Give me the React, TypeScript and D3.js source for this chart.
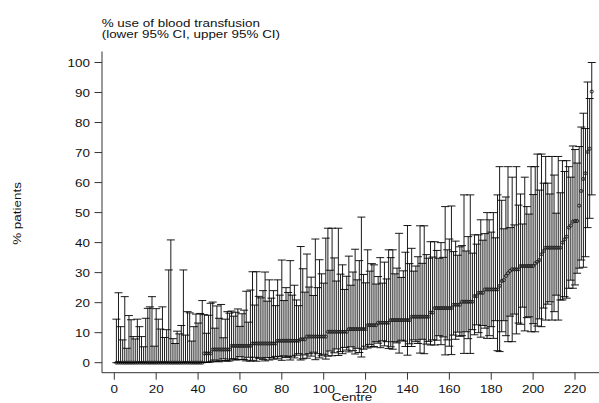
import React from "react";
import * as d3 from "d3";

// Point estimate (% use of blood transfusion) per centre, sorted
const estimate: number[] = [
  0, 0, 0, 0, 0, 0, 0, 0, 0, 0,
  0, 0, 0, 0, 0, 0, 0, 0, 0, 0,
  0, 0, 0, 0, 0, 0, 0, 0, 0, 0,
  0, 0, 0, 0, 0, 0, 0, 0, 0, 0,
  0, 0, 3.1, 3.1, 3.1, 3.1, 4.4, 4.4, 4.4, 4.4,
  4.4, 4.4, 4.4, 4.4, 4.4, 5.6, 5.6, 5.6, 5.6, 5.6,
  5.6, 5.6, 5.6, 5.6, 5.6, 6.4, 6.4, 6.4, 6.4, 6.4,
  6.4, 6.4, 6.4, 6.4, 6.4, 6.4, 6.4, 7.3, 7.3, 7.3,
  7.3, 7.3, 7.3, 7.3, 7.3, 7.3, 7.3, 7.3, 7.8, 7.8,
  7.8, 8.7, 8.7, 8.7, 8.7, 8.7, 8.7, 8.7, 8.7, 8.7,
  8.7, 10.3, 10.3, 10.3, 10.3, 10.3, 10.3, 10.3, 10.3, 10.3,
  10.3, 11.2, 11.2, 11.2, 11.2, 11.2, 11.2, 11.2, 11.2, 11.2,
  12.5, 12.5, 12.5, 12.5, 12.5, 13.3, 13.3, 13.3, 13.3, 13.3,
  13.3, 14.2, 14.2, 14.2, 14.2, 14.2, 14.2, 14.2, 14.2, 14.2,
  14.2, 15.3, 15.3, 15.3, 15.3, 15.3, 15.3, 15.3, 15.3, 15.3,
  16.7, 16.7, 18.2, 18.2, 18.2, 18.2, 18.2, 18.2, 18.2, 18.2,
  18.2, 19.3, 19.3, 19.3, 19.3, 20.3, 20.3, 20.3, 20.3, 20.3,
  20.3, 22.2, 22.2, 23.3, 23.3, 23.3, 24.4, 24.4, 24.4, 24.4,
  24.4, 24.4, 24.4, 25.6, 27.2, 27.5, 28.9, 29.8, 30.6, 31.1,
  31.1, 31.1, 31.1, 32.2, 32.2, 32.2, 32.2, 32.2, 32.2, 32.2,
  33.1, 33.6, 34.2, 36.1, 37.2, 38.3, 38.3, 38.3, 38.3, 38.3,
  38.3, 38.3, 38.3, 40, 41.1, 42, 45, 45.7, 47, 47.2,
  47.2, 52.3, 57.2, 61.2, 63.1, 70.2, 71.3, 90.3,
];

// Upper 95% CI per centre
const upper: number[] = [
  14.5, 23.3, 12, 7.6, 22, 4.8, 15.7, 14.3, 8.7, 7.9,
  14.5, 12, 8.7, 5.3, 14.8, 18.1, 18.6, 22, 5.5, 18,
  14.5, 11.2, 18.6, 8.4, 11, 30.9, 40.9, 8, 6.4, 10.5,
  9.6, 12.4, 30.9, 9.2, 17, 16.6, 7.2, 12, 16.2, 13.2,
  16.4, 20.7, 16, 9.8, 15.8, 19.8, 20.2, 11.5, 18.9, 14.8,
  19.4, 8.3, 14.5, 17.0, 16.5, 17.2, 15.5, 16.8, 17.9, 12.1,
  16.3, 17.5, 23.8, 13.5, 24.2, 30.3, 19.2, 30.3, 22.1, 21.6,
  24.0, 30.2, 20.5, 27.6, 21.5, 24.0, 19.0, 27.6, 22.5, 34.2,
  20.7, 25.0, 23.4, 34.0, 22.5, 25.8, 20.9, 19.0, 38.7, 31.3,
  23.5, 36.2, 25.2, 28.5, 22.4, 41.2, 25.0, 34.3, 29.6, 26.5,
  41.5, 44.8, 30.8, 44.8, 34.9, 27.2, 44.8, 29.5, 32.6, 24.4,
  28.8, 35.5, 25.8, 30.2, 37.8, 27.6, 34.0, 48.5, 29.4, 26.6,
  37.6, 30.5, 33.0, 32.6, 26.2, 28.7, 35.0, 26.5, 33.5, 27.9,
  37.6, 35.0, 37.6, 29.6, 31.5, 43.1, 28.4, 30.6, 36.8, 45.7,
  33.0, 38.1, 30.5, 32.2, 35.3, 45.6, 33.1, 45.6, 36.0, 34.8,
  40.3, 35.2, 40.3, 37.4, 34.8, 40.0, 35.1, 52.0, 37.6, 41.2,
  52.2, 37.0, 40.5, 35.8, 38.6, 39.0, 55.9, 37.2, 42.0, 55.9,
  36.5, 42.6, 39.5, 42.6, 47.6, 40.8, 43.0, 50.0, 47.6, 43.5,
  50.0, 41.6, 55.9, 65.3, 54.1, 44.6, 55.2, 65.3, 45.0, 61.8,
  45.9, 65.3, 52.5, 56.2, 46.2, 61.8, 52.0, 49.5, 65.3, 56.0,
  65.3, 69.5, 57.5, 69.5, 59.8, 68.7, 59.8, 56.2, 68.7, 62.5,
  49.8, 68.7, 56.6, 67.3, 63.7, 67.3, 65.3, 61.8, 72.2, 71.0,
  66.5, 72.0, 78.5, 83.1, 78.0, 93.5, 88.0, 100,
];

// Lower 95% CI per centre
const lower: number[] = [
  0, 0, 0, 0, 0, 0, 0, 0, 0, 0,
  0, 0, 0, 0, 0, 0, 0, 0, 0, 0,
  0, 0, 0, 0, 0, 0, 0, 0, 0, 0,
  0, 0, 0, 0, 0, 0, 0, 0, 0, 0,
  0, 0, 0.1, 0.1, 0.2, 0.2, 0.5, 0.9, 0.5, 0.3,
  0.6, 1.3, 0.7, 0.5, 0.6, 1.2, 1.3, 0.9, 1.0, 2.0,
  1.1, 1.0, 0.6, 1.8, 0.5, 0.8, 1.8, 0.5, 1.5, 1.6,
  1.1, 0.6, 1.7, 0.9, 1.7, 1.2, 2.1, 1.3, 2.0, 0.8,
  2.3, 1.7, 2.0, 0.9, 2.2, 1.6, 2.5, 3.0, 0.9, 1.3,
  2.6, 1.5, 3.0, 2.2, 3.5, 1.0, 3.0, 1.6, 2.3, 2.8,
  1.2, 2.2, 3.9, 2.3, 3.3, 4.6, 2.4, 3.7, 3.0, 5.1,
  4.2, 3.6, 5.3, 4.0, 2.9, 4.8, 3.4, 1.9, 4.5, 5.5,
  4.9, 6.1, 5.2, 5.4, 7.0, 6.5, 5.0, 7.3, 5.6, 7.0,
  4.7, 5.3, 4.5, 7.0, 6.6, 3.2, 7.5, 7.2, 5.4, 2.5,
  6.3, 5.4, 7.6, 7.0, 6.4, 3.2, 7.8, 3.0, 6.2, 7.1,
  5.9, 7.6, 5.9, 7.5, 9.0, 6.0, 8.6, 2.6, 7.6, 5.5,
  2.7, 9.2, 7.8, 10.2, 8.8, 9.0, 3.1, 10.3, 8.0, 3.1,
  11.0, 9.3, 12.6, 10.0, 8.5, 12.4, 11.5, 8.1, 9.0, 12.0,
  8.1, 14.0, 4.0, 3.7, 10.3, 14.0, 9.0, 7.0, 15.5, 7.0,
  16.2, 9.6, 13.2, 12.8, 18.5, 10.6, 15.0, 15.3, 10.3, 13.0,
  10.3, 12.2, 14.6, 12.0, 18.2, 14.2, 19.5, 20.3, 14.2, 17.0,
  22.5, 14.2, 20.9, 20.9, 22.0, 21.5, 24.8, 27.5, 24.8, 25.9,
  29.8, 31.5, 34.2, 31.8, 35.3, 45.0, 48.1, 55.9,
];

const xTicks: number[] = [0, 20, 40, 60, 80, 100, 120, 140, 160, 180, 200, 220];
const yTicks: number[] = [0, 10, 20, 30, 40, 50, 60, 70, 80, 90, 100];

const titleLines: string[] = ["% use of blood transfusion", "(lower 95% CI, upper 95% CI)"];
const yLabel = "% patients";
const xLabel = "Centre";

const W = 599;
const H = 403;
const FONT = "'Liberation Sans', Arial, Helvetica, sans-serif";
const FS = 10.5;
const SX = 1.28; // horizontal stretch of the reference's lettering

function T(props: {
  x: number;
  y: number;
  anchor?: "start" | "middle" | "end";
  rotate?: number;
  children: React.ReactNode;
}) {
  const { x, y, anchor = "start", rotate = 0, children } = props;
  return (
    <text
      transform={`translate(${x},${y}) rotate(${rotate}) scale(${SX},1)`}
      fontSize={FS}
      textAnchor={anchor}
      fill="#111"
    >
      {children}
    </text>
  );
}

export default function App() {
  const x = d3.scaleLinear().domain([0, 220]).range([114.3, 575]);
  const y = d3.scaleLinear().domain([0, 100]).range([362.7, 62.5]);
  const axisX = 102;
  const axisY = 372.7;
  const capHalf = 4;

  const rows = estimate.map((e, i) => ({ c: i + 1, e, lo: lower[i], hi: upper[i] }));

  return (
    <svg
      width={W}
      height={H}
      style={{ position: "absolute", left: 0, top: 0, background: "#fff" }}
      fontFamily={FONT}
    >
      <rect x={0} y={0} width={W} height={H} fill="#fff" />
      {/* title */}
      <T x={101.7} y={26.5}>{titleLines[0]}</T>
      <T x={101.7} y={37.8}>{titleLines[1]}</T>

      {/* y axis */}
      <line x1={axisX} x2={axisX} y1={51.5} y2={axisY} stroke="#333" strokeWidth={1} />
      {yTicks.map((t) => (
        <g key={"y" + t}>
          <line x1={axisX - 7.5} x2={axisX} y1={y(t)} y2={y(t)} stroke="#333" strokeWidth={1} />
          <T x={axisX - 12} y={y(t) + 4} anchor="end">{t}</T>
        </g>
      ))}
      <T x={20.5} y={213.5} anchor="middle" rotate={-90}>{yLabel}</T>

      {/* x axis */}
      <line x1={axisX} x2={W} y1={axisY} y2={axisY} stroke="#333" strokeWidth={1} />
      {xTicks.map((t) => (
        <g key={"x" + t}>
          <line x1={x(t)} x2={x(t)} y1={axisY} y2={axisY + 7} stroke="#333" strokeWidth={1} />
          <T x={x(t)} y={axisY + 20.3} anchor="middle">{t}</T>
        </g>
      ))}
      <T x={352} y={400.6} anchor="middle">{xLabel}</T>

      {/* error bars */}
      <g stroke="#000" strokeWidth={0.9} fill="none">
        {rows.map((r) => (
          <g key={r.c}>
            <line x1={x(r.c)} x2={x(r.c)} y1={y(r.lo)} y2={y(r.hi)} />
            <line x1={x(r.c) - capHalf} x2={x(r.c) + capHalf} y1={y(r.hi)} y2={y(r.hi)} />
            <line x1={x(r.c) - capHalf} x2={x(r.c) + capHalf} y1={y(r.lo)} y2={y(r.lo)} />
          </g>
        ))}
      </g>
      {/* point estimates */}
      <g stroke="#111" strokeWidth={0.8} fill="none">
        {rows.map((r) => (
          <circle key={"p" + r.c} cx={x(r.c)} cy={y(r.e)} r={1.6} />
        ))}
      </g>
    </svg>
  );
}
